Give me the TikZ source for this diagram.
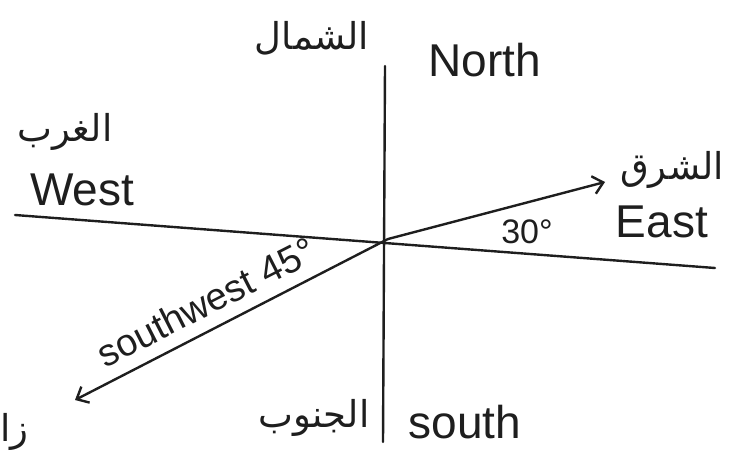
\documentclass[tikz,border=0pt]{standalone}
\usepackage{fontspec}
\setmainfont{Liberation Sans}
\newfontfamily\arabicfont[Script=Arabic]{DejaVu Sans}
\TeXXeTstate=1
\usetikzlibrary{arrows.meta,positioning,calc}
\usepackage{xcolor}
\definecolor{ink}{RGB}{30, 30, 30}

\tikzset{
  axisline/.style={draw=ink, line width=2.4pt, line cap=round},
  latinlbl/.style={text=ink, font=\fontsize{46}{50}\selectfont, inner sep=0pt},
  arablbl/.style={text=ink, font=\arabicfont\fontsize{37}{42}\selectfont, inner sep=0pt},
  anglelbl/.style={text=ink, font=\fontsize{34}{38}\selectfont, inner sep=0pt}
}

\begin{document}
\begin{tikzpicture}[x=1pt, y=-1pt]
        \useasboundingbox (0,0) rectangle (747,450);
        % axes
        \coordinate (o) at (388,239);
        \coordinate (n) at (385,66);
        \coordinate (s) at (383,442);
        \coordinate (w) at (15,215);
        \coordinate (e) at (715,268);
        \coordinate (ne) at (605,182);
        \coordinate (sw) at (75,400);
        \draw[axisline] (n) -- (s);
        \draw[axisline] (w) -- (e);
        \draw[axisline, -{Straight Barb[length=10pt,width=18pt]}] (o) -- (ne);
        \draw[axisline, -{Straight Barb[length=10pt,width=18pt]}] (o) -- (sw);
        % labels
        \node[latinlbl] (north) at (485,60) {North};
        \node[arablbl] (northar) at (312,38) {\beginR الشمال\endR};
        \node[latinlbl] (west) at (82,190) {West};
        \node[arablbl] (westar) at (65,132) {\beginR الغرب\endR};
        \node[latinlbl] (east) at (662,222) {East};
        \node[arablbl] (eastar) at (672,170) {\beginR الشرق\endR};
        \node[latinlbl] (south) at (465,422) {south};
        \node[arablbl] (southar) at (314,418) {\beginR الجنوب\endR};
        \node[arablbl, anchor=west] (swar) at (0,432) {\beginR زا\endR};
        \node[anglelbl] (thirty) at (527,232) {30°};
        \node[anglelbl, font=\fontsize{38}{42}\selectfont, rotate=27] (southwest) at (206,302) {southwest 45°};
    \end{tikzpicture}
\end{document}
